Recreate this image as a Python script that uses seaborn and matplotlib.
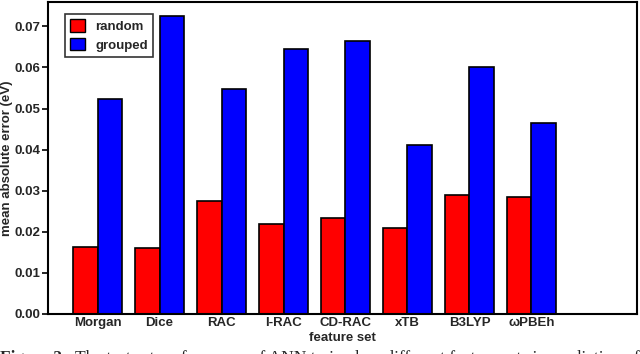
import matplotlib
matplotlib.use("Agg")
import matplotlib.pyplot as plt
import seaborn as sns
import pandas as pd

features = ["Morgan", "Dice", "RAC", "l-RAC", "CD-RAC", "xTB", "B3LYP", "ωPBEh"]
random_mae = [0.0163, 0.0161, 0.0274, 0.0220, 0.0234, 0.0210, 0.0290, 0.0285]
grouped_mae = [0.0523, 0.0725, 0.0548, 0.0646, 0.0664, 0.0411, 0.0602, 0.0465]
series = ["random", "grouped"]
yticks = [0.00, 0.01, 0.02, 0.03, 0.04, 0.05, 0.06, 0.07]

df = pd.DataFrame({
    "feature set": features * 2,
    "mae": random_mae + grouped_mae,
    "split": [series[0]] * len(features) + [series[1]] * len(features),
})

sns.set_theme(style="white")
plt.rcParams["font.family"] = ["Liberation Sans", "DejaVu Sans"]

fig = plt.figure(figsize=(6.4, 3.54), dpi=100)
ax = fig.add_axes([0.075, 0.113, 0.920, 0.881])

sns.barplot(data=df, x="feature set", y="mae", hue="split",
            palette={"random": "#ff0000", "grouped": "#0000ff"},
            edgecolor="black", linewidth=1.2, width=0.8, ax=ax, saturation=1)

ax.set_xlim(-0.8, 8.7)
ax.set_ylim(0, 0.0759)
ax.set_yticks(yticks)
ax.set_yticklabels([f"{t:.2f}" for t in yticks], fontsize=9.5, fontweight="bold")
ax.set_xticks(range(len(features)))
ax.set_xticklabels(features, fontsize=9.5, fontweight="bold")
ax.tick_params(axis="y", direction="out", length=4, width=1.2, pad=1.5, color="black", left=True)
ax.tick_params(axis="x", length=0, pad=2)
ax.set_xlabel("feature set", fontsize=9.5, fontweight="bold", labelpad=2.5)
ax.set_ylabel("mean absolute error (eV)", fontsize=9.5, fontweight="bold", labelpad=1)
for s in ax.spines.values():
    s.set_color("black")
    s.set_linewidth(1.5)

leg = ax.legend(loc="upper left", bbox_to_anchor=(0.018, 0.983), frameon=True,
                fancybox=False, edgecolor="black", prop={"weight": "bold", "size": 9.5},
                handlelength=1.1, handleheight=1.1, borderpad=0.4, labelspacing=0.35,
                handletextpad=0.8)
leg.get_frame().set_linewidth(1.2)
for h in leg.legend_handles:
    h.set_edgecolor("black")
    h.set_linewidth(1.0)

cap_y = 1 - 361.5 / 354
fig.text(0.0, cap_y, "Figure 2.", fontsize=12.5, fontweight="bold",
         family=["Liberation Serif"], va="baseline", ha="left")
fig.text(75 / 640, cap_y,
         "The test set performance of ANN trained on different feature sets in prediction of",
         fontsize=12.5, family=["Liberation Serif"], va="baseline", ha="left")

fig.savefig("out.png", dpi=100)
